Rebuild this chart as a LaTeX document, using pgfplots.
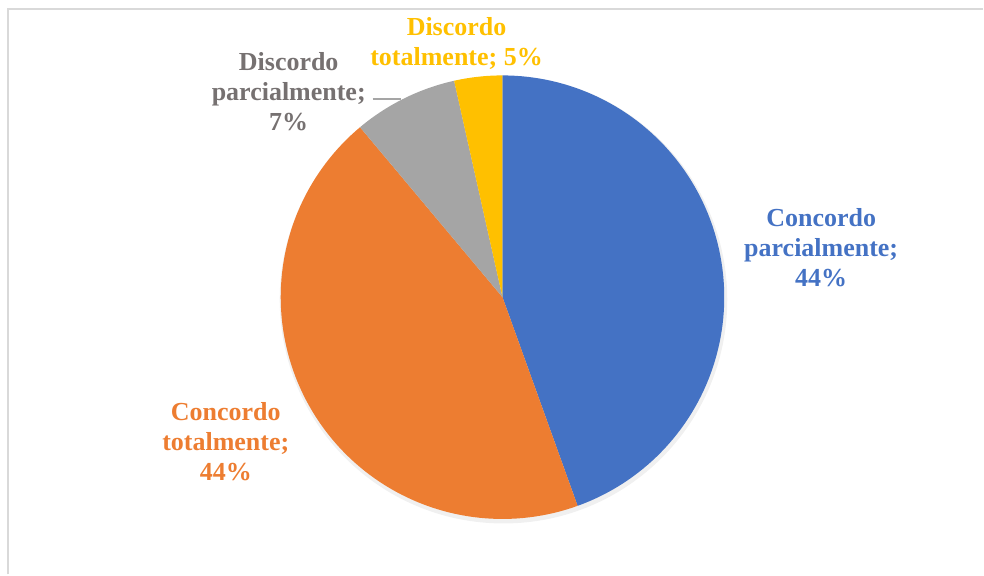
\documentclass[border=0pt]{standalone}
\usepackage{pgfplots}
\pgfplotsset{compat=1.18}
\usepackage{fontspec}
\setmainfont{Liberation Serif}
\definecolor{cblue}{HTML}{4472C4}
\definecolor{corange}{HTML}{ED7D31}
\definecolor{cgray}{HTML}{A5A5A5}
\definecolor{cyellow}{HTML}{FFC000}
\definecolor{tgray}{HTML}{767171}
\definecolor{frame}{HTML}{D9D9D9}
\tikzset{lbl/.style={font=\fontsize{13bp}{15bp}\selectfont\bfseries, align=center, inner sep=0pt}}
\begin{document}
\begin{tikzpicture}
\begin{axis}[x=0.5bp,y=0.5bp,xmin=0,xmax=984,ymin=0,ymax=575,
  scale only axis, hide axis, clip=false]
\path (axis cs:0,0) rectangle (axis cs:984,575);
\draw[frame, line width=1bp] (axis cs:8,0) -- (axis cs:8,566) -- (axis cs:984,566);
% soft shadow
\fill[black, opacity=0.06] (axis cs:504,275) circle[radius=112bp];
% slices (percent values: 44.5, 44.4, 7.6, 3.5)
\addplot[draw=none, fill=cblue, domain=0:44.5, samples=100]
  ({503+222*sin(3.6*x)},{277.5+222*cos(3.6*x)}) -- (axis cs:503,277.5) -- cycle;
\addplot[draw=none, fill=corange, domain=44.5:88.9, samples=100]
  ({503+222*sin(3.6*x)},{277.5+222*cos(3.6*x)}) -- (axis cs:503,277.5) -- cycle;
\addplot[draw=none, fill=cgray, domain=88.9:96.5, samples=30]
  ({503+222*sin(3.6*x)},{277.5+222*cos(3.6*x)}) -- (axis cs:503,277.5) -- cycle;
\addplot[draw=none, fill=cyellow, domain=96.5:100, samples=20]
  ({503+222*sin(3.6*x)},{277.5+222*cos(3.6*x)}) -- (axis cs:503,277.5) -- cycle;
% leader line
\draw[cgray, line width=0.75bp] (axis cs:373,476) -- (axis cs:401,476);
% labels
\node[lbl, text=cyellow] at (axis cs:457,531) {Discordo\\totalmente; 5\%};
\node[lbl, text=tgray] at (axis cs:289,483) {Discordo\\parcialmente;\\7\%};
\node[lbl, text=cblue] at (axis cs:822,327) {Concordo\\parcialmente;\\44\%};
\node[lbl, text=corange] at (axis cs:226,133) {Concordo\\totalmente;\\44\%};
\end{axis}
\end{tikzpicture}
\end{document}
